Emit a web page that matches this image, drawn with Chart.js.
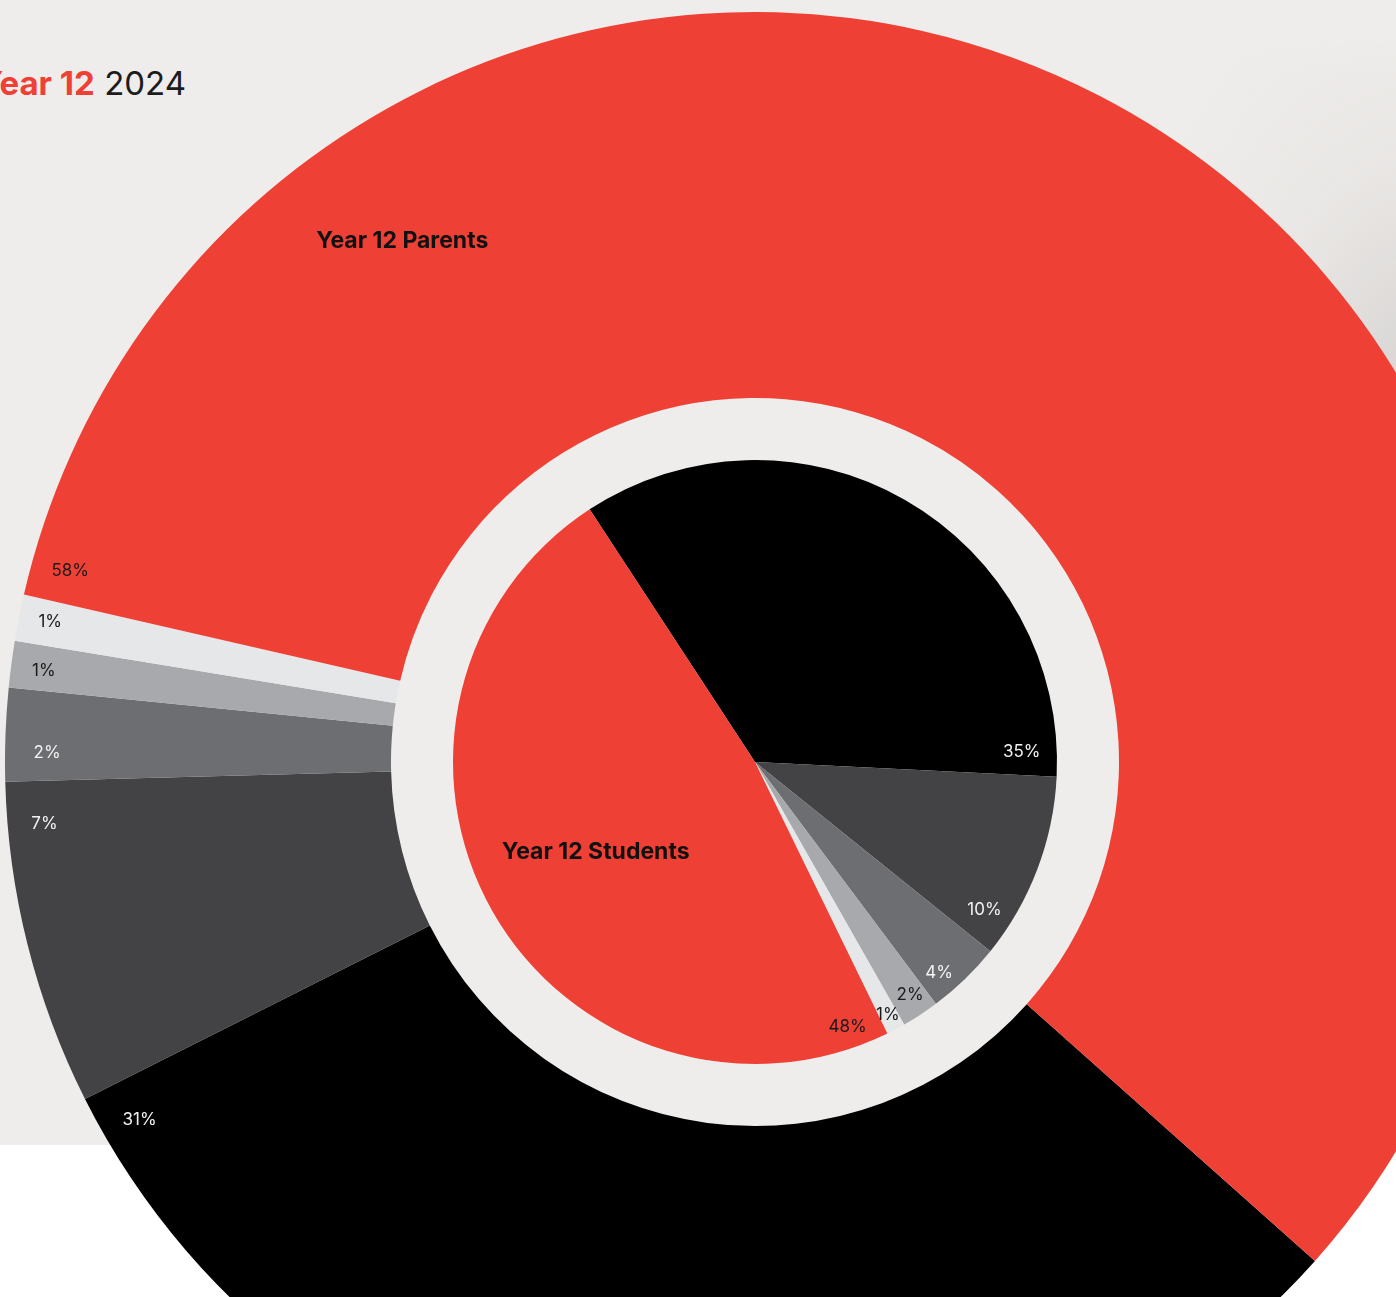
<!DOCTYPE html>
<html>
<head>
<meta charset="utf-8">
<title>Year 12 2024</title>
<script src="https://cdn.jsdelivr.net/npm/chart.js@4.4.1/dist/chart.umd.min.js"></script>
<style>
  html, body {
    margin: 0;
    padding: 0;
    width: 1396px;
    height: 1297px;
    overflow: hidden;
    background: #ffffff;
    font-family: Inter, "Noto Sans", sans-serif;
  }
  .panel {
    position: absolute;
    left: 0;
    top: 0;
    width: 1396px;
    height: 1145px;
    background: #efedeb;
  }
  .photo {
    position: absolute;
    left: 1150px;
    top: 60px;
    width: 300px;
    height: 700px;
    background: radial-gradient(ellipse at 90% 45%, rgba(205, 202, 200, 0.7) 0%, rgba(228, 225, 223, 0.5) 40%, rgba(239, 237, 235, 0) 75%);
    filter: blur(12px);
  }
  .title {
    position: absolute;
    right: 1210px;
    top: 67px;
    font-size: 33px;
    line-height: 1;
    white-space: nowrap;
    color: #1c1c1c;
  }
  .title b {
    color: #ef4036;
    font-weight: 700;
  }
  canvas {
    position: absolute;
    left: 5px;
    top: 12px;
  }
</style>
</head>
<body>
  <div class="panel"></div>
  <div class="photo"></div>
  <div class="title"><b>Year 12</b> 2024</div>
  <canvas id="parentsChart" width="1500" height="1500"></canvas>
  <canvas id="studentsChart" width="1500" height="1500"></canvas>

<script>
  // answer groups, same order on both rings
  const categories = ['Group A', 'Group B', 'Group C', 'Group D', 'Group E', 'Group F'];
  const parentsValues = [31, 7, 2, 1, 1, 58];
  const studentsValues = [35, 10, 4, 2, 1, 48];
  const ringLabels = ['Year 12 Parents', 'Year 12 Students'];

  const sliceColors = ['#000000', '#434244', '#6d6e71', '#a7a9ac', '#e6e7e8', '#ef4036'];
  const textColors = ['#f2f2f2', '#f2f2f2', '#f2f2f2', '#1a1a1a', '#1a1a1a', '#1a1a1a'];

  // where each % sits: fraction along the slice, fraction of the radius
  const parentsLabelAt = [0.969, 0.861, 0.31, 0.44, 0.53, 0.013];
  const parentsLabelR = [0.949, 0.951, 0.944, 0.956, 0.958, 0.948];
  const studentsLabelAt = [0.961, 0.833, 0.70, 0.44, 0.53, 0.039];
  const studentsLabelR = [0.884, 0.904, 0.927, 0.927, 0.947, 0.93];

  const percentLabels = {
    id: 'percentLabels',
    afterDatasetsDraw(chart, args, opts) {
      const ctx = chart.ctx;
      const meta = chart.getDatasetMeta(0);
      const values = chart.data.datasets[0].data;
      ctx.save();
      ctx.font = '400 17px Inter, "Noto Sans", sans-serif';
      ctx.textAlign = 'center';
      ctx.textBaseline = 'middle';
      meta.data.forEach((arc, i) => {
        const a = arc.startAngle + opts.at[i] * (arc.endAngle - arc.startAngle);
        const r = opts.r[i] * arc.outerRadius;
        ctx.fillStyle = textColors[i];
        ctx.fillText(values[i] + '%', arc.x + Math.cos(a) * r, arc.y + Math.sin(a) * r);
      });

      // ring name
      const first = meta.data[0];
      const a = opts.nameAngle * Math.PI / 180;
      const r = opts.nameR * first.outerRadius;
      ctx.font = '700 23px Inter, "Noto Sans", sans-serif';
      ctx.fillStyle = '#111111';
      ctx.fillText(opts.name, first.x + Math.cos(a) * r, first.y + Math.sin(a) * r);
      ctx.restore();
    }
  };

  const baseOptions = {
    responsive: false,
    animation: false,
    events: [],
    layout: { padding: 0 },
    plugins: {
      legend: { display: false },
      tooltip: { enabled: false }
    }
  };

  new Chart(document.getElementById('parentsChart').getContext('2d'), {
    type: 'doughnut',
    data: {
      labels: categories,
      datasets: [{
        label: ringLabels[0],
        data: parentsValues,
        backgroundColor: sliceColors,
        borderWidth: 0
      }]
    },
    options: {
      ...baseOptions,
      rotation: 131.7,
      cutout: 364,
      plugins: {
        ...baseOptions.plugins,
        percentLabels: {
          at: parentsLabelAt,
          r: parentsLabelR,
          name: ringLabels[0],
          nameAngle: -124.1,
          nameR: 0.839
        }
      }
    },
    plugins: [percentLabels]
  });

  new Chart(document.getElementById('studentsChart').getContext('2d'), {
    type: 'pie',
    data: {
      labels: categories,
      datasets: [{
        label: ringLabels[1],
        data: studentsValues,
        backgroundColor: sliceColors,
        borderWidth: 0
      }]
    },
    options: {
      ...baseOptions,
      rotation: -33.2,
      radius: 302,
      plugins: {
        ...baseOptions.plugins,
        percentLabels: {
          at: studentsLabelAt,
          r: studentsLabelR,
          name: ringLabels[1],
          nameAngle: 150.5,
          nameR: 0.606
        }
      }
    },
    plugins: [percentLabels]
  });
</script>
</body>
</html>
